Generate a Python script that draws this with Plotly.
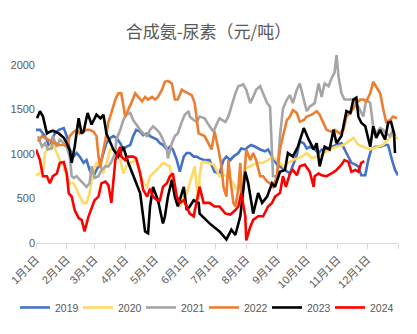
import plotly.graph_objects as go
import pandas as pd

# Day offsets from Jan 1 and values (元/吨) per year
d2019 = [0,4,7,11,14,16,19,23,28,31,34,38,41,44,48,51,54,58,61,65,68,71,75,78,81,85,88,91,95,98,101,105,108,112,115,118,122,125,128,132,135,138,142,145,149,152,155,159,162,
         165,170,175,180,185,189,192,196,199,204,207,211,214,217,221,226,231,234,238,243,246,251,256,263,266,270,273,276,281,285,288,293,298,303,308,313,318,322,325,328,332,335,338,342,347,352,355,359,362,365]
v2019 = [1270,1270,1230,1160,1050,1160,1230,1270,1290,1200,1050,970,1010,970,900,930,820,750,820,900,1010,1120,1180,1200,1180,1120,1050,1080,1100,1200,1270,1250,1210,1230,1200,1180,1160,1120,1100,1050,1080,1050,930,800,970,1010,1010,970,970,
         950,930,930,800,780,930,970,930,970,1010,1060,1050,1080,1100,1080,1050,1030,1050,970,880,860,820,780,990,1140,1120,1060,1080,1050,1010,1050,1050,1080,1100,1120,1010,900,880,860,760,760,930,1050,1080,1080,1100,1100,930,820,760]

d2020 = [0,4,7,9,11,14,17,21,24,28,31,34,38,41,44,48,51,54,58,61,65,68,71,75,78,81,85,88,91,95,101,105,108,112,115,118,122,125,128,135,138,142,145,149,152,155,159,160,162,164,165,167,170,
         174,179,182,185,189,194,199,202,206,209,212,216,219,224,229,234,238,243,246,251,254,259,264,268,273,278,283,288,293,298,303,310,315,320,325,330,337,340,345,350,355,359,362,365]
v2020 = [760,780,800,1010,1050,1080,1120,1010,930,860,750,670,670,600,520,450,450,560,820,900,860,780,900,1050,1050,970,930,780,860,900,930,780,670,630,750,780,820,860,900,860,630,450,410,520,560,670,820,860,630,480,750,900,910,
         900,880,820,750,760,750,670,600,670,750,840,860,880,900,900,930,970,930,900,840,900,930,950,970,1010,950,970,990,1030,1060,1080,1100,1140,1180,1100,1080,1050,1060,1080,1100,1160,1210,1180,1180]

d2021 = [2,6,9,12,16,17,21,24,28,31,34,36,38,41,44,48,51,54,56,59,63,66,70,73,76,80,81,85,88,91,95,98,101,105,108,112,115,118,122,125,128,132,133,137,140,143,147,150,154,155,159,162,
         165,170,175,179,182,185,191,194,197,201,204,209,212,216,219,222,226,229,233,236,238,239,243,246,249,253,256,259,263,266,270,273,276,281,285,288,291,295,298,301,303,305,308,311,315,320,325,330,333,337,340,343,347,350,353,357,360,362]
v2021 = [1200,1080,1120,1050,1060,1200,1080,1160,1120,1080,970,750,730,750,710,670,630,670,860,730,750,820,860,860,910,1010,1160,1270,1380,1440,1460,1380,1330,1270,1230,1200,1270,1310,1270,1230,1160,1050,950,1120,1200,1230,1360,1440,1480,1420,1380,1360,
         1420,1400,1310,1250,1330,1400,1360,1420,1530,1680,1760,1780,1720,1570,1640,1720,1760,1680,1570,1530,1080,750,750,1200,1510,1610,1660,1570,1720,1790,1610,1480,1530,1570,1790,1640,1790,1760,1850,1910,2110,1870,1680,1610,1610,1610,1530,1420,1610,1570,1310,1230,1290,1270,1230,1200,1270,1200]

d2022 = [2,6,9,12,16,19,23,28,31,34,38,41,44,48,51,54,58,61,63,65,66,70,73,76,80,83,86,90,93,96,100,103,107,110,113,117,120,123,127,130,133,137,140,143,147,150,154,157,160,162,164,
         170,174,177,180,184,187,189,192,194,196,199,201,202,204,206,207,209,212,216,219,222,226,229,233,236,239,243,246,249,253,256,259,263,266,270,273,278,283,286,290,293,298,301,306,310,313,317,320,323,327,330,333,337,340,343,347,350,353,357,360,364]
v2022 = [1140,1200,1180,1160,1140,1120,1100,1100,1080,1200,1250,1270,1230,1250,1270,1270,1250,1200,970,840,930,1160,1360,1460,1610,1680,1680,1420,1490,1570,1680,1640,1590,1640,1610,1640,1610,1640,1720,1810,1820,1790,1610,1610,1720,1700,1680,1660,1570,1420,1230,
         1200,1120,1050,1250,1050,860,630,520,930,710,450,410,480,600,900,560,600,1050,930,1010,930,750,750,690,670,630,750,1050,1200,1380,1420,1490,1460,1360,1380,1420,1440,1480,1440,1350,1270,1250,1270,1230,1270,1420,1460,1510,1570,1610,1610,1590,1680,1810,1760,1680,1510,1360,1380,1420,1400]

d2023 = [1,4,7,11,14,17,23,28,31,34,36,39,43,46,48,52,56,61,65,68,71,78,83,88,93,98,105,108,110,113,115,118,123,128,130,133,137,140,143,149,152,155,159,164,
         165,175,185,192,197,201,206,211,214,219,224,228,233,238,241,246,251,254,259,264,270,275,280,283,286,291,296,300,303,308,313,317,320,323,325,328,332,337,340,343,347,352,355,358,361,362]
v2023 = [1400,1480,1420,1230,1250,1260,1230,1180,1120,1040,900,1080,1400,1230,1250,1460,1330,1440,1400,1440,1230,1050,970,1080,900,750,560,300,130,110,410,630,480,220,300,520,710,520,410,630,370,410,480,450,
         330,220,130,40,150,90,300,800,670,330,560,450,520,670,630,800,820,1010,970,1080,1290,1160,1050,1120,860,1080,1050,1270,1120,1200,1480,1460,1610,1630,1420,1350,1310,1080,1310,1180,1270,1160,1350,1360,1230,1010]

d2024 = [0,4,7,11,14,17,21,24,28,31,33,36,39,43,46,49,53,56,59,63,66,70,73,76,80,83,85,86,90,93,98,101,105,108,112,115,118,122,125,128,132,135,138,142,145,149,152,155,159,162,
         165,169,175,180,185,191,196,201,204,207,211,212,216,219,224,229,234,238,241,246,249,252,256,259,263,266,271,276,280,281,285,288,293,298,303,308,311,315,318,322,325,328,331]
v2024 = [1050,930,750,750,670,750,780,900,910,780,560,520,370,280,260,130,300,390,480,520,670,690,650,450,930,1030,1080,970,930,970,970,950,780,600,520,610,520,480,480,630,670,750,780,520,450,480,410,330,300,450,
         630,450,450,410,410,330,320,370,410,560,300,30,180,260,300,300,410,450,520,560,750,630,780,820,760,860,880,800,630,750,780,760,750,780,820,880,930,910,800,820,800,900,920]

years = ["2019", "2020", "2021", "2022", "2023", "2024"]
colors = ["#4472C4", "#FFD966", "#A5A5A5", "#ED7D31", "#000000", "#FF0000"]
days = [d2019, d2020, d2021, d2022, d2023, d2024]
vals = [v2019, v2020, v2021, v2022, v2023, v2024]

base = pd.Timestamp("2021-01-01")
month_ticks = pd.date_range("2021-01-01", "2022-01-01", freq="MS")
tick_text = [f"{m.month}月1日" for m in month_ticks[:-1]] + [""]

fig = go.Figure()
for name, col, d, v in zip(years, colors, days, vals):
    x = [base + pd.Timedelta(days=int(k)) for k in d]
    fig.add_trace(go.Scatter(x=x, y=v, mode="lines", name=name,
                             line=dict(color=col, width=2.6)))

font_main = "Liberation Sans, Noto Sans CJK SC, sans-serif"
fig.update_layout(
    width=417, height=334,
    margin=dict(l=36, r=19, t=47, b=91),
    paper_bgcolor="white", plot_bgcolor="white",
    font=dict(family=font_main, size=11, color="#595959"),
    title=dict(text="合成氨-尿素（元/吨）", x=0.5, xanchor="center", y=0.905, yanchor="middle",
               font=dict(family="Noto Sans CJK SC, sans-serif", size=17, color="#595959")),
    showlegend=True,
    legend=dict(orientation="h", x=-0.058, xanchor="left", y=-0.255, yanchor="top",
                font=dict(size=10.5, color="#595959"), entrywidth=18, entrywidthmode="pixels",
                itemwidth=30, tracegroupgap=0),
    xaxis=dict(type="date", range=[base, pd.Timestamp("2022-01-01")],
               tickmode="array", tickvals=list(month_ticks), ticktext=tick_text,
               tickangle=-45, showgrid=False, showline=True, linecolor="#D9D9D9", linewidth=1,
               ticks="outside", ticklen=5, tickcolor="#D9D9D9", automargin=False,
               tickfont=dict(family=font_main, size=11, color="#595959"), zeroline=False),
    yaxis=dict(range=[0, 2200], tickmode="array", tickvals=[0, 500, 1000, 1500, 2000],
               showgrid=False, showline=False, zeroline=False, ticks="", automargin=False,
               tickfont=dict(family=font_main, size=11, color="#595959")),
)

fig.write_html("out.html")
